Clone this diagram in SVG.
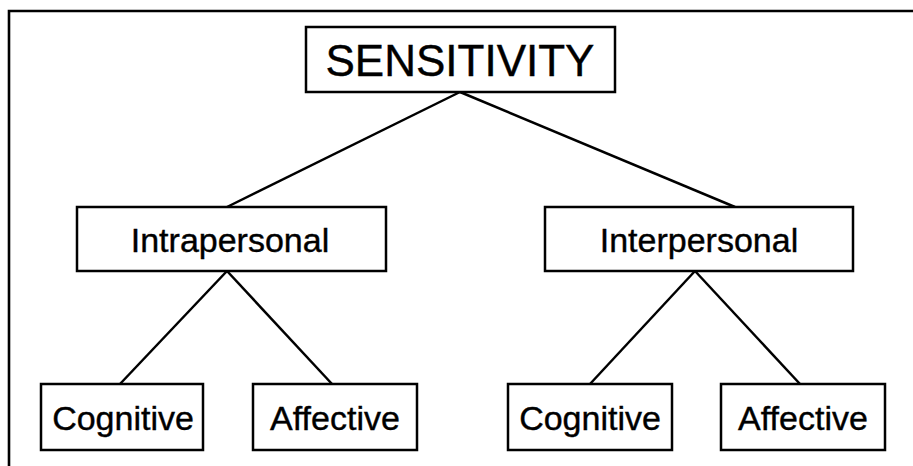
<svg xmlns="http://www.w3.org/2000/svg" width="913" height="466" viewBox="0 0 913 466">
<style>
.box{fill:#fff;stroke:#000;stroke-width:2.5}
.lbl{font-family:"Liberation Sans",Arial,sans-serif;fill:#000;stroke:#000;stroke-width:0.4;text-anchor:middle}
.con line{stroke:#000;stroke-width:2.5}
.frame{stroke:#000;stroke-width:2.6;fill:none}
</style>
<rect width="913" height="466" fill="#fff"/>
<path class="frame" d="M9,466 V11 H913"/>
<g class="con" id="connectors">
<line x1="460" y1="92" x2="227" y2="207"/>
<line x1="460" y1="92" x2="735" y2="207"/>
<line x1="227" y1="271" x2="120" y2="384"/>
<line x1="227" y1="271" x2="332" y2="384"/>
<line x1="695" y1="271" x2="590" y2="384"/>
<line x1="695" y1="271" x2="800" y2="384"/>
</g>
<g id="sensitivity">
<rect class="box" x="306" y="27" width="309" height="65"/>
<text class="lbl" x="460" y="76" font-size="44">SENSITIVITY</text>
</g>
<g id="intrapersonal">
<rect class="box" x="77" y="207" width="309" height="64"/>
<text class="lbl" x="230" y="252" font-size="34">Intrapersonal</text>
</g>
<g id="interpersonal">
<rect class="box" x="545" y="207" width="308" height="64"/>
<text class="lbl" x="699" y="252" font-size="34">Interpersonal</text>
</g>
<g id="intra-cognitive">
<rect class="box" x="41" y="384" width="162" height="66"/>
<text class="lbl" x="123" y="430" font-size="34">Cognitive</text>
</g>
<g id="intra-affective">
<rect class="box" x="253" y="384" width="164" height="66"/>
<text class="lbl" x="335" y="430" font-size="34">Affective</text>
</g>
<g id="inter-cognitive">
<rect class="box" x="508" y="384" width="164" height="66"/>
<text class="lbl" x="590" y="430" font-size="34">Cognitive</text>
</g>
<g id="inter-affective">
<rect class="box" x="721" y="384" width="164" height="66"/>
<text class="lbl" x="803" y="430" font-size="34">Affective</text>
</g>
</svg>
